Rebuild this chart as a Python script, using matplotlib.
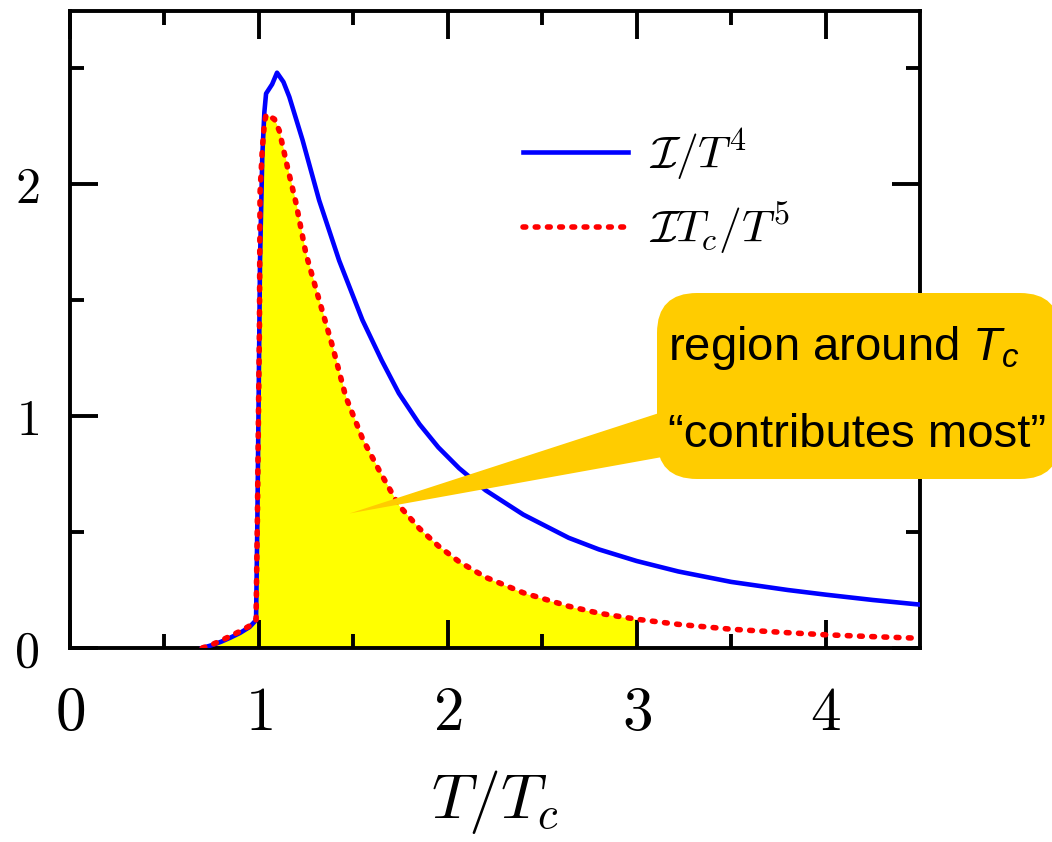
import matplotlib
matplotlib.use("Agg")
import matplotlib.pyplot as plt
from matplotlib.patches import FancyBboxPatch, Polygon
from matplotlib.transforms import IdentityTransform
import numpy as np

plt.rcParams['mathtext.fontset'] = 'cm'
plt.rcParams['mathtext.rm'] = 'Liberation Sans'
plt.rcParams['mathtext.it'] = 'Liberation Sans:italic'

# I/T^4
T_blue = [0.70, 0.75, 0.80, 0.85, 0.90, 0.95, 0.985, 0.992, 0.999, 1.006, 1.018,
          1.029, 1.038, 1.07, 1.096, 1.13, 1.161, 1.231, 1.319, 1.425, 1.548, 1.65,
          1.741, 1.85, 1.95, 2.06, 2.20, 2.40, 2.64, 2.80, 3.00, 3.22, 3.50, 3.80,
          4.00, 4.25, 4.50]
I_blue = [0.0, 0.012, 0.027, 0.045, 0.065, 0.09, 0.12, 0.55, 1.10, 1.67, 2.12,
          2.31, 2.39, 2.43, 2.48, 2.44, 2.376, 2.19, 1.93, 1.67, 1.414, 1.24,
          1.098, 0.965, 0.865, 0.775, 0.68, 0.575, 0.475, 0.425, 0.375, 0.33, 0.285, 0.25,
          0.23, 0.207, 0.187]

# I Tc/T^5
T_red = [0.70, 0.75, 0.80, 0.85, 0.90, 0.95, 0.985, 0.992, 0.999, 1.003, 1.006,
         1.018, 1.029, 1.038, 1.06, 1.082, 1.108, 1.152, 1.196, 1.249, 1.319, 1.39,
         1.46, 1.55, 1.636, 1.74, 1.85, 1.95, 2.06, 2.20, 2.40, 2.64, 2.80, 3.00,
         3.22, 3.50, 3.80, 4.00, 4.25, 4.50]
I_red = [0.0, 0.014, 0.032, 0.052, 0.072, 0.095, 0.122, 0.55, 1.10, 1.385, 1.96,
         2.15, 2.26, 2.30, 2.29, 2.28, 2.23, 2.07, 1.92, 1.70, 1.50, 1.30,
         1.083, 0.90, 0.767, 0.616, 0.515, 0.44, 0.372, 0.305, 0.238, 0.18, 0.15, 0.124,
         0.102, 0.081, 0.066, 0.057, 0.049, 0.042]

fill_upto = 3.0

xticks = [0, 1, 2, 3, 4]
xtick_labels = ['$0$', '$1$', '$2$', '$3$', '$4$']
yticks = [0, 1, 2]
ytick_labels = ['$0$', '$1$', '$2$']

fig = plt.figure(figsize=(10.52, 8.42), dpi=100)
ax = fig.add_axes([70 / 1052, 194 / 842, 850 / 1052, 637 / 842])

Tr = np.array(T_red)
Ir = np.array(I_red)
ax.fill_between(Tr, Ir, 0, where=Tr <= fill_upto, color='#ffff00', lw=0, zorder=1)
ax.plot(T_blue, I_blue, color='#0000ff', lw=3.3, solid_joinstyle='round',
        label=r'$\mathcal{I}/T^4$', zorder=3)
ax.plot(T_red, I_red, color='#ff0000', lw=4.0, dashes=(0.5, 1.7),
        dash_capstyle='round', label=r'$\mathcal{I}T_c/T^5$', zorder=4)

ax.set_xlim(0, 4.5)
ax.set_ylim(0, 2.746)
ax.set_xticks(xticks)
ax.set_xticklabels(xtick_labels, fontsize=44)
ax.set_xticks(np.arange(0.5, 4.5, 1.0), minor=True)
ax.set_yticks(yticks)
ax.set_yticklabels(ytick_labels, fontsize=36)
ax.set_yticks([0.5, 1.5, 2.5], minor=True)
ax.tick_params(which='both', direction='in', top=True, right=True, width=2.8)
ax.tick_params(which='major', length=20)
ax.tick_params(which='minor', length=10)
ax.tick_params(axis='x', pad=26)
ax.tick_params(axis='y', pad=22)
for s in ax.spines.values():
    s.set_linewidth(2.8)

ax.set_xlabel(r'$T/T_c$', fontsize=46, labelpad=18)

ax.legend(loc='center left', bbox_to_anchor=(0.533, 0.716), frameon=False,
          fontsize=33, handlelength=2.3, handletextpad=0.45, borderpad=0,
          borderaxespad=0, labelspacing=0.4)

# callout bubble
H = 842
box = FancyBboxPatch((657, H - 479), 403, 186,
                     boxstyle='round,pad=0,rounding_size=40',
                     transform=IdentityTransform(), fc='#ffcc00', ec='none',
                     clip_on=False, zorder=6)
ax.add_patch(box)
tip = ax.transData.transform((1.48, 0.58))
wedge = Polygon([tip, (690, H - 403), (690, H - 452)], closed=True,
                transform=IdentityTransform(), fc='#ffcc00', ec='none',
                clip_on=False, zorder=6)
ax.add_patch(wedge)

fig.text(668 / 1052, (H - 360) / H, r'region around $T_c$', fontsize=34,
         family='Liberation Sans', math_fontfamily='custom', va='baseline',
         zorder=7)
fig.text(668 / 1052, (H - 447) / H, '\u201ccontributes most\u201d', fontsize=34,
         family='Liberation Sans', va='baseline', zorder=7)

fig.savefig('out.png', dpi=100)
